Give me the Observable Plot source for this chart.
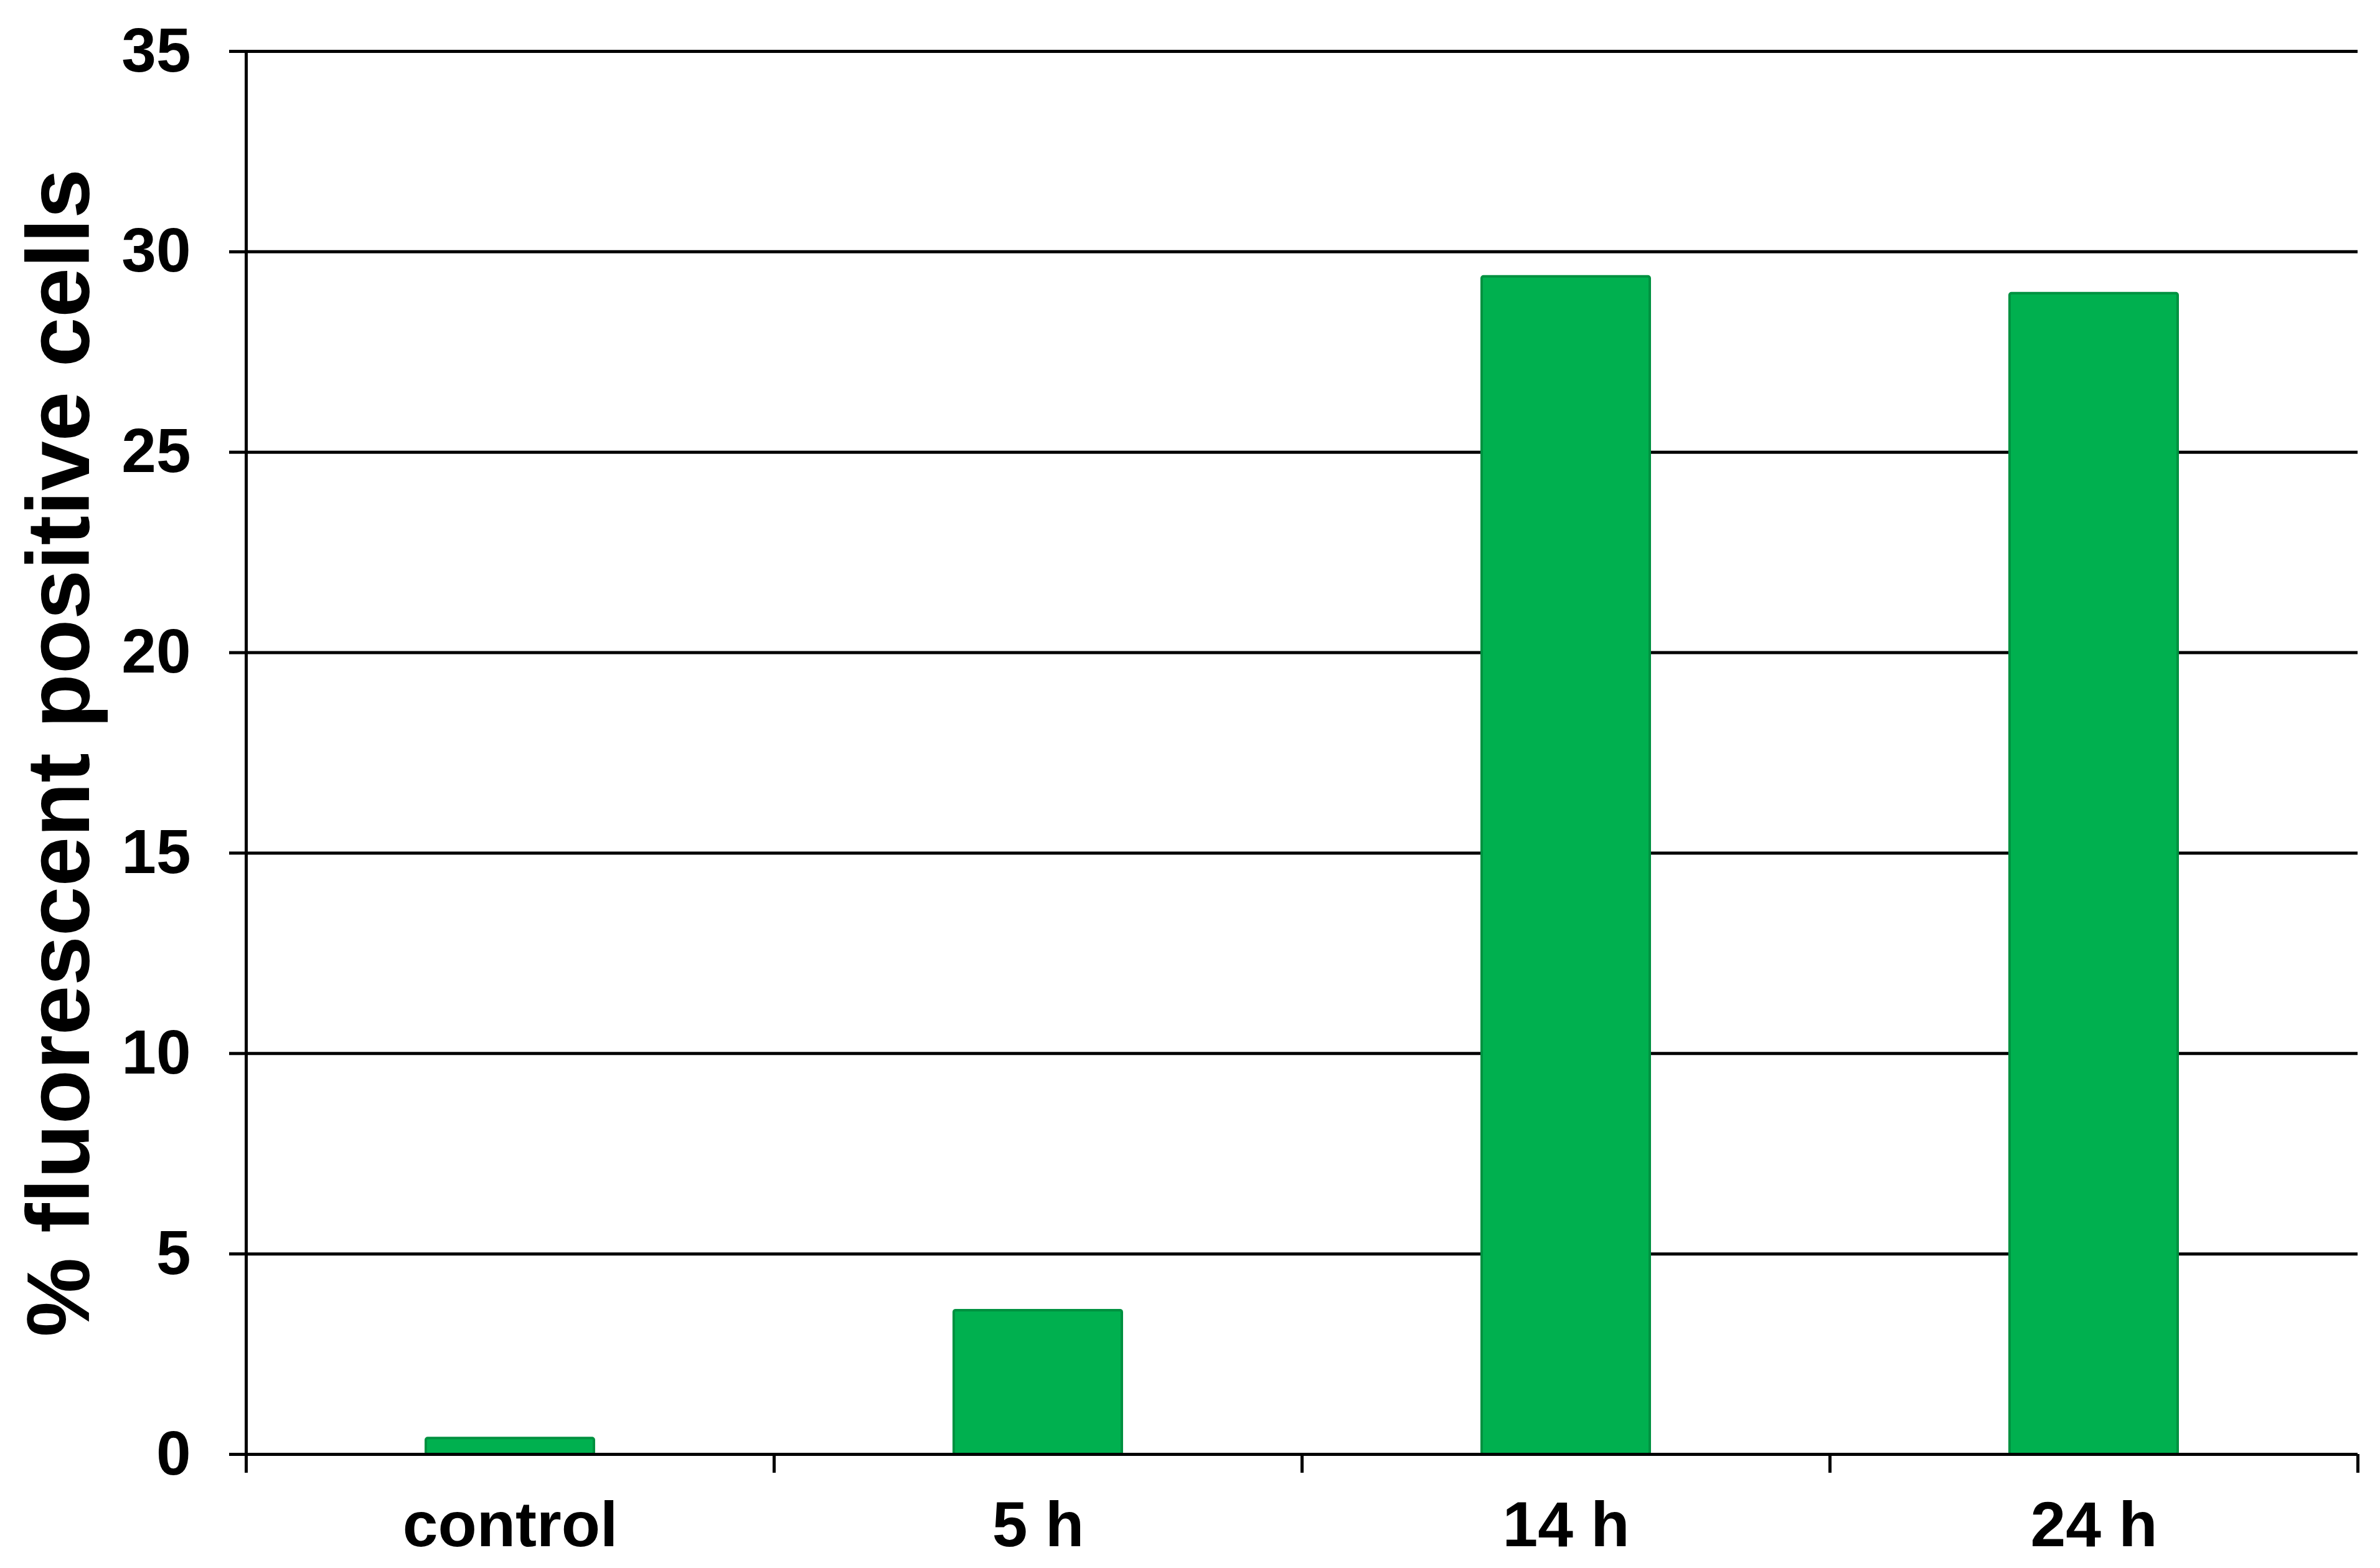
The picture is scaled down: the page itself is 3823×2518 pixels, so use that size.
<!DOCTYPE html>
<html>
<head>
<meta charset="utf-8">
<script src="https://cdn.jsdelivr.net/npm/d3@7"></script>
<script src="https://cdn.jsdelivr.net/npm/@observablehq/plot@0.6"></script>
<style>
  html, body { margin: 0; padding: 0; background: #ffffff; }
</style>
</head>
<body>
<div id="chart"></div>
<script>
// ---- data ----
const categories = ["control", "5 h", "14 h", "24 h"];
const values = [0.40, 3.59, 29.38, 28.96];
const yTicks = [0, 5, 10, 15, 20, 25, 30, 35];
const yLabel = "% fluorescent positive cells";

const data = categories.map((c, i) => ({category: c, value: values[i]}));

// ---- layout ----
const W = 3823, H = 2518;
const mL = 395, mR = 36, mT = 82, mB = 183;
const step = (W - mL - mR) / categories.length;
const barWidth = 270;
const inset = (step - barWidth) / 2;

const chart = Plot.plot({
  width: W,
  height: H,
  marginLeft: mL,
  marginRight: mR,
  marginTop: mT,
  marginBottom: mB,
  style: {
    fontFamily: "'Liberation Sans', Arial, sans-serif",
    fontWeight: "bold",
    background: "#ffffff",
    color: "#000000"
  },
  x: {domain: categories, padding: 0},
  y: {domain: [0, 35]},
  marks: [
    // horizontal gridlines
    Plot.ruleY(yTicks, {stroke: "#000000", strokeWidth: 5}),
    // bars
    Plot.barY(data, {
      x: "category",
      y: "value",
      fill: "#00B04F",
      stroke: "#009140",
      strokeWidth: 4,
      rx: 3,
      insetLeft: inset,
      insetRight: inset
    }),
    // baseline over the bars
    Plot.ruleY([0], {stroke: "#000000", strokeWidth: 5}),
    // vertical axis line (with small extension below baseline)
    Plot.ruleX([categories[0]], {
      y1: 35, y2: 0, dx: -step / 2, insetBottom: -30,
      stroke: "#000000", strokeWidth: 5
    }),
    // category boundary ticks on the x axis
    Plot.ruleX(categories, {
      y1: 0, y2: 0, dx: step / 2, insetBottom: -30,
      stroke: "#000000", strokeWidth: 5
    }),
    // y axis ticks and labels
    Plot.axisY({
      ticks: yTicks,
      tickSize: 27,
      tickPadding: 62,
      fontSize: 100,
      strokeWidth: 5,
      stroke: "#000000",
      label: null
    }),
    // x axis labels
    Plot.axisX({
      tickSize: 0,
      tickPadding: 75,
      fontSize: 102,
      label: null
    }),
    // y axis title
    Plot.text([yLabel], {
      frameAnchor: "left",
      rotate: -90,
      dx: -298,
      fontSize: 143,
      fontWeight: "bold",
      lineAnchor: "middle",
      textAnchor: "middle",
      fill: "#000000"
    })
  ]
});

document.getElementById("chart").appendChild(chart);
</script>
</body>
</html>
